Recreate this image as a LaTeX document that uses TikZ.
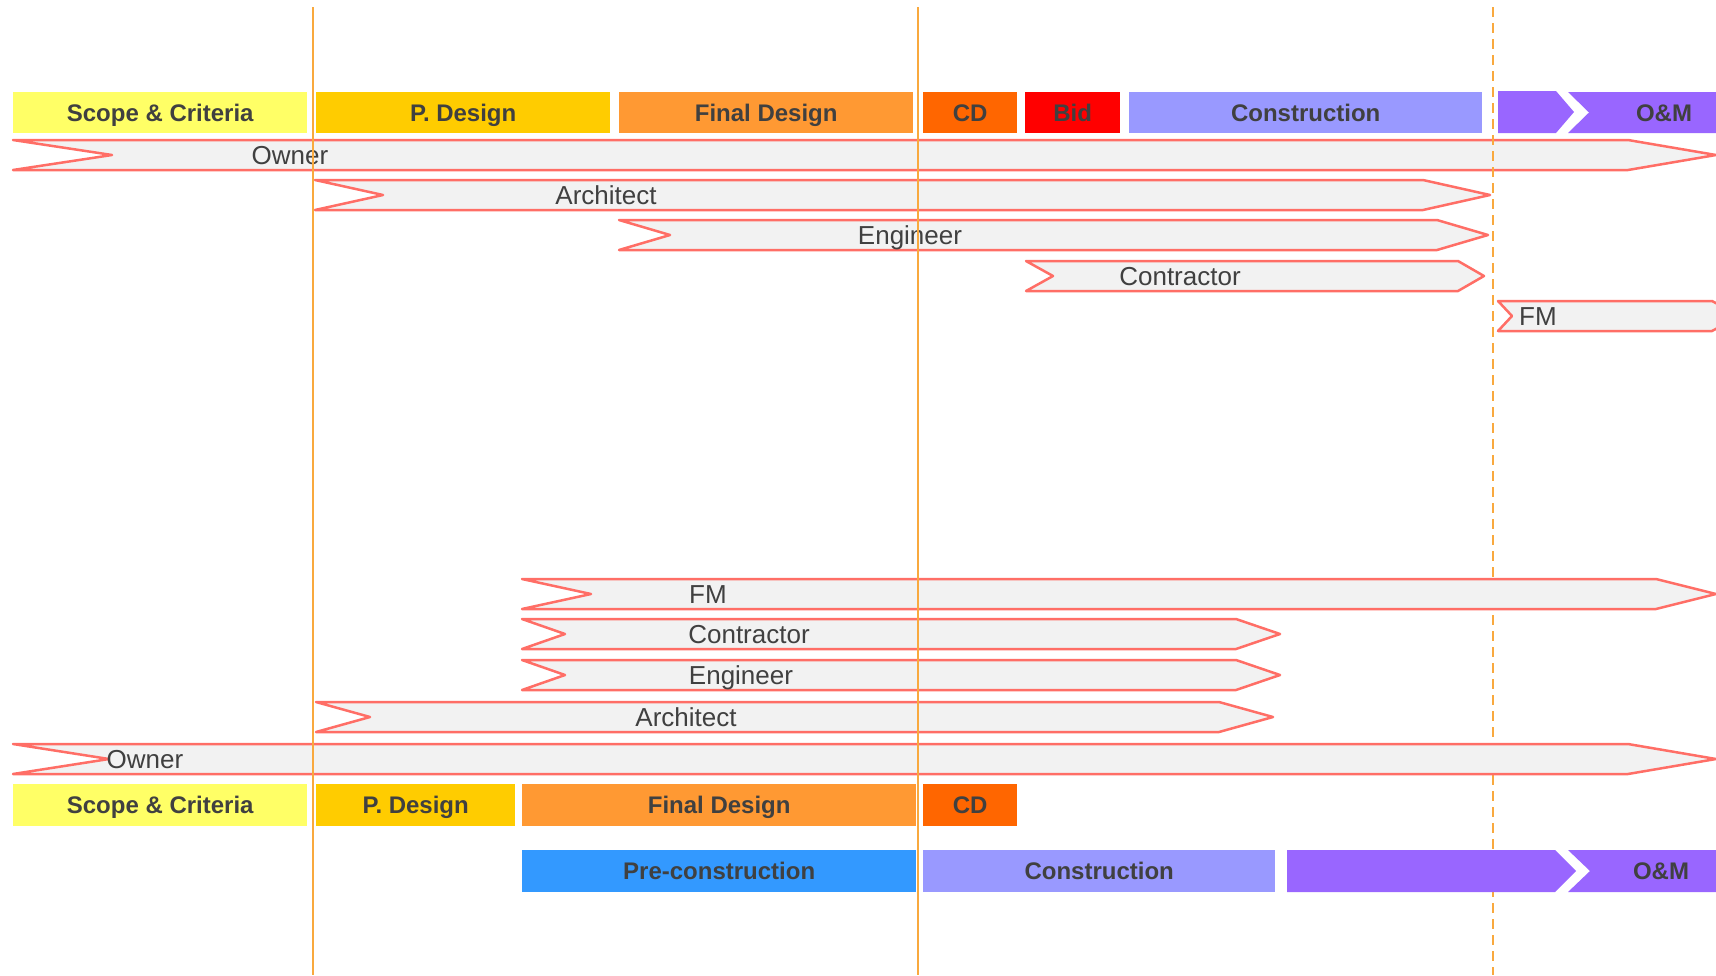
\documentclass[tikz,border=0pt]{standalone}
\usepackage{fontspec}
\setmainfont{Liberation Sans}
\definecolor{txtgray}{HTML}{404040}
\definecolor{cscope}{HTML}{FFFF66}
\definecolor{cpdes}{HTML}{FFCC00}
\definecolor{cfinal}{HTML}{FF9933}
\definecolor{ccd}{HTML}{FF6600}
\definecolor{cbid}{HTML}{FF0000}
\definecolor{cconst}{HTML}{9999FF}
\definecolor{cpre}{HTML}{3399FF}
\definecolor{com}{HTML}{9966FF}
\definecolor{rolered}{HTML}{FF6E66}
\definecolor{rolefill}{HTML}{F2F2F2}
\definecolor{guide}{HTML}{F9A93E}
\tikzset{
  phase/.style={rectangle, inner sep=0pt, anchor=north west, text=txtgray,
    font=\fontsize{24}{28}\selectfont\bfseries},
  phasetext/.style={inner sep=0pt, text=txtgray, text height=17pt, text depth=0pt,
    font=\fontsize{24}{28}\selectfont\bfseries},
  roleshape/.style={draw=rolered, fill=rolefill, line width=2.5pt, line join=round},
  rolelabel/.style={inner sep=0pt, text=txtgray, text height=18.5pt, text depth=0pt,
    font=\fontsize{26}{30}\selectfont},
  guidesolid/.style={draw=guide, line width=1.6pt},
  guidedash/.style={draw=guide, line width=2pt, dash pattern=on 10pt off 6pt},
  omshape/.style={fill=com, draw=none}
}
% name, x1, y1, width, height, colour, text
\newcommand{\phasebox}[7]{%
  \node[phase, fill=#6, minimum width=#4pt, minimum height=#5pt] (#1) at (#2,#3) {};
  \node[phasetext] (#1-t) at (#1.center) {#7};}
% name, left, notch, bodyend, tip, top, bottom, labelx, label
\newcommand{\roleband}[9]{%
  \draw[roleshape] (#2,#6) -- (#4,#6) -- (#5,{(#6+#7)/2}) -- (#4,#7) -- (#2,#7) -- (#3,{(#6+#7)/2}) -- cycle;
  \node[rolelabel] (#1) at (#8,{(#6+#7)/2}) {#9};}
\begin{document}
\begin{tikzpicture}[x=1pt,y=-1pt]
\useasboundingbox (0,0) rectangle (1716,975);
\clip (0,0) rectangle (1716,975);

% ---------- top role bands ----------
\roleband{towner}{13}{112}{1628}{1716}{140}{170}{290}{Owner}
\roleband{tarch}{315}{383}{1423}{1490}{180}{210}{606}{Architect}
\roleband{teng}{619}{670}{1437}{1488}{220}{250}{910}{Engineer}
\roleband{tcont}{1026}{1053}{1458}{1484}{261}{291}{1180}{Contractor}
\roleband{tfm}{1498}{1512}{1712}{1740}{301}{331}{1538}{FM}

% ---------- dashed guide (over top bands, under bottom bands) ----------
\coordinate (g3t) at (1493,7);  \coordinate (g3b) at (1493,975);
\draw[guidedash] (g3t) -- (g3b);

% ---------- bottom role bands ----------
\roleband{bfm}{522}{591}{1656}{1716}{579}{609}{708}{FM}
\roleband{bcont}{522}{565}{1236}{1280}{619}{649}{749}{Contractor}
\roleband{beng}{522}{565}{1236}{1280}{660}{690}{741}{Engineer}
\roleband{barch}{316}{370}{1219}{1273}{702}{732}{686}{Architect}
\roleband{bowner}{13}{109}{1628}{1716}{744}{774}{145}{Owner}

% ---------- solid guide lines ----------
\coordinate (g1t) at (313,7);   \coordinate (g1b) at (313,975);
\coordinate (g2t) at (918,7);   \coordinate (g2b) at (918,975);
\draw[guidesolid] (g1t) -- (g1b);
\draw[guidesolid] (g2t) -- (g2b);

% ---------- top phases ----------
\phasebox{tscope}{13}{92}{294}{41}{cscope}{Scope \& Criteria}
\phasebox{tpdes}{316}{92}{294}{41}{cpdes}{P. Design}
\phasebox{tfinal}{619}{92}{294}{41}{cfinal}{Final Design}
\phasebox{tcd}{923}{92}{94}{41}{ccd}{CD}
\phasebox{tbid}{1025}{92}{95}{41}{cbid}{Bid}
\phasebox{tconst}{1129}{92}{353}{41}{cconst}{Construction}
\path[omshape] (1498,91) -- (1556,91) -- (1574,112) -- (1556,133) -- (1498,133) -- cycle;
\path[omshape] (1568,92) -- (1720,92) -- (1720,133) -- (1568,133) -- (1589,112.5) -- cycle;
\node[phasetext] (tom) at (1664,112.5) {O\&M};

% ---------- bottom phases ----------
\phasebox{bscope}{13}{784}{294}{42}{cscope}{Scope \& Criteria}
\phasebox{bpdes}{316}{784}{199}{42}{cpdes}{P. Design}
\phasebox{bfinal}{522}{784}{394}{42}{cfinal}{Final Design}
\phasebox{bcd}{923}{784}{94}{42}{ccd}{CD}
\phasebox{bpre}{522}{850}{394}{42}{cpre}{Pre-construction}
\phasebox{bconst}{923}{850}{352}{42}{cconst}{Construction}
\path[omshape] (1287,850) -- (1555,850) -- (1576,871) -- (1555,892) -- (1287,892) -- cycle;
\path[omshape] (1568,850) -- (1720,850) -- (1720,892) -- (1568,892) -- (1590,871) -- cycle;
\node[phasetext] (bom) at (1661,871) {O\&M};
\end{tikzpicture}
\end{document}
